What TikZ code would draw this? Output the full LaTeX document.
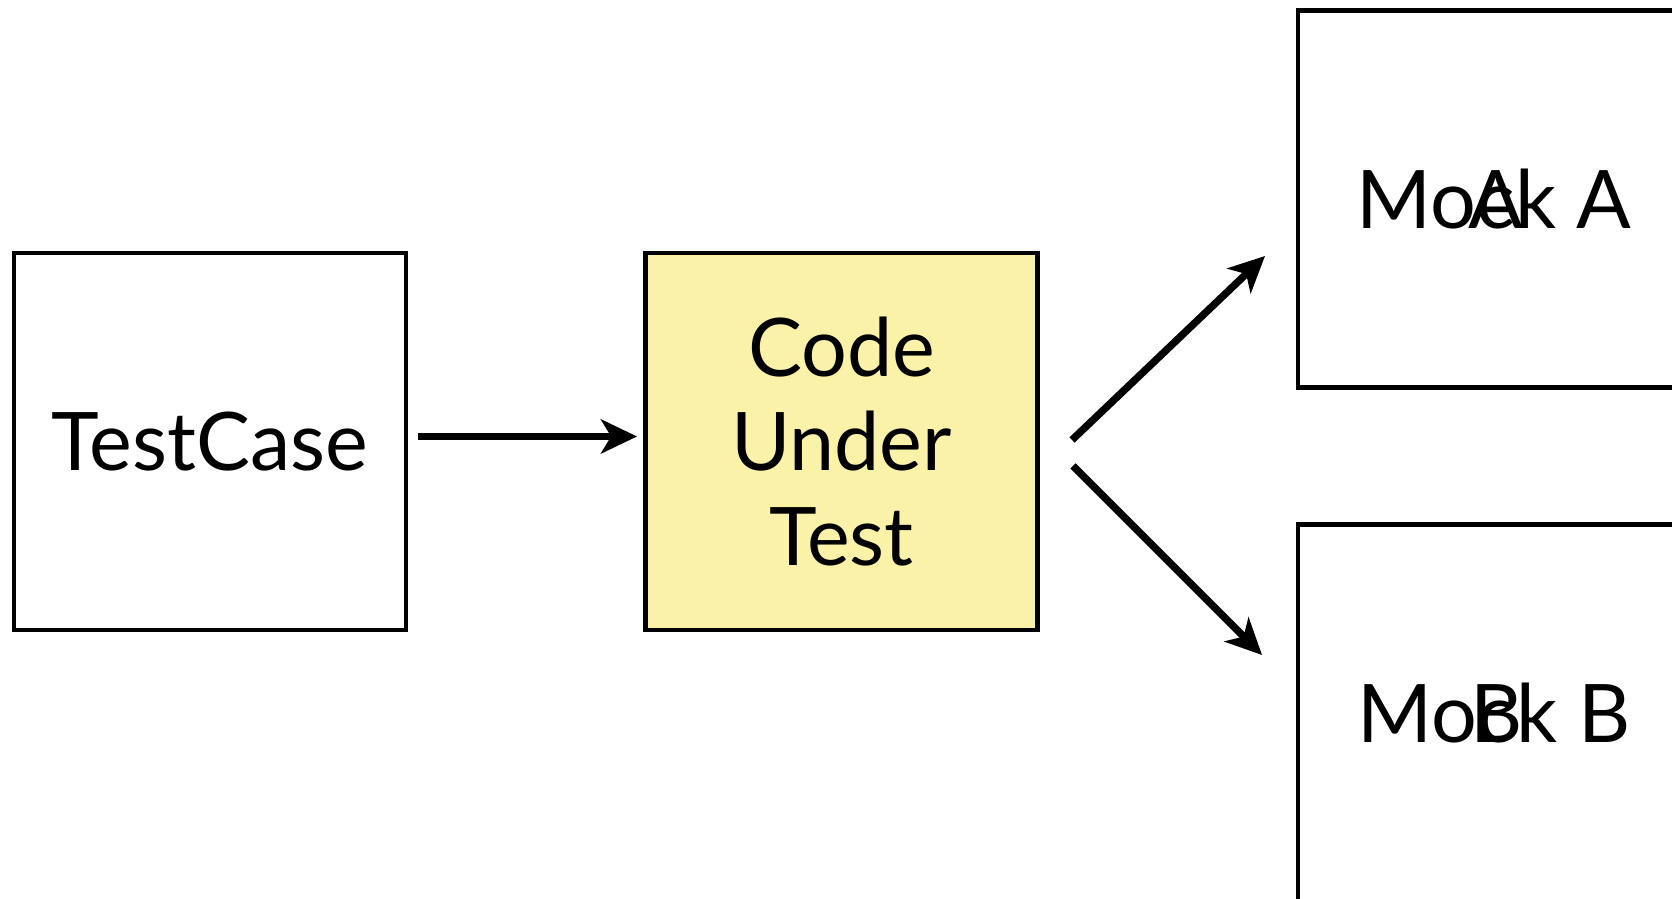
\documentclass[tikz,border=0pt]{standalone}
\usepackage{fontspec}
\setmainfont{Lato}
\usetikzlibrary{arrows.meta, positioning}
\definecolor{c1}{HTML}{000000}
\definecolor{c2}{HTML}{FAF2A8}

\begin{document}
\begin{tikzpicture}[
    every node/.style={font=\fontsize{23}{27}\selectfont},
    box/.style={rectangle, draw=c1, line width=1.4pt, minimum width=3.92cm,
        minimum height=3.77cm, inner sep=0pt, align=center},
    arr/.style={c1, line width=2.1pt, -{Stealth[length=0.36cm, width=0.34cm, inset=0.1cm]}},
]
\useasboundingbox (0, 0) rectangle (16.72, 8.99);

% ============================================================ the boxes
\node[box] (testcase) at (2.10, 4.575) {TestCase};
\node[box, fill=c2] (cut) at (8.415, 4.575) {Code\\ Under\\ Test};
\node[box] (mocka) at (14.94, 7.00) {Mo\ooalign{c\cr\hidewidth A\hidewidth\cr}k A};
\node[box] (mockb) at (14.94, 1.86) {Mo\ooalign{c\cr\hidewidth B\hidewidth\cr}k B};

% ============================================================ the calls
\coordinate (a1) at (10.72, 4.59);
\coordinate (a2) at (12.65, 6.43);
\coordinate (b1) at (10.73, 4.33);
\coordinate (b2) at (12.62, 2.44);

\draw[arr] ([xshift=0.1cm, yshift=0.05cm]testcase.east) -- ([xshift=-0.06cm, yshift=0.05cm]cut.west);
\draw[arr] (a1) -- (a2);
\draw[arr] (b1) -- (b2);

\end{tikzpicture}
\end{document}
